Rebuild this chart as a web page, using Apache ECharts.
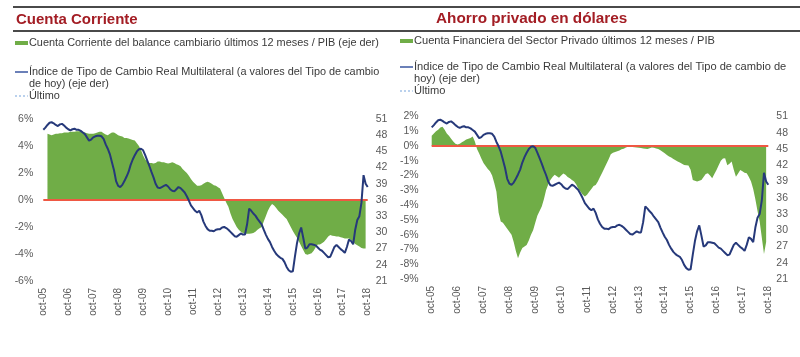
<!DOCTYPE html>
<html>
<head>
<meta charset="utf-8">
<script src="https://cdn.jsdelivr.net/npm/echarts@6/dist/echarts.min.js"></script>
<style>
html,body{margin:0;padding:0;background:#fff;}
#chart{width:800px;height:357px;}
</style>
</head>
<body>
<div id="chart"></div>
<script>
// Month names (Spanish) used to build monthly categories oct-05 .. oct-18
const monthNames = ['ene','feb','mar','abr','may','jun','jul','ago','sep','oct','nov','dic'];
const startYear = 2005, startMonth = 9, nMonths = 157;

// Índice de Tipo de Cambio Real Multilateral (eje der), monthly oct-05..oct-18
const tcrm = [
  49.0, 49.4, 49.9, 50.3, 50.4, 50.2, 49.9, 49.7, 50.0, 50.1, 49.8, 49.4,
  49.1, 48.9, 49.1, 49.2, 49.0, 49.0, 48.8, 48.5, 48.2, 47.6, 47.0, 47.2,
  47.6, 47.8, 47.9, 47.9, 47.8, 47.3, 46.3, 45.5, 44.5, 43.0, 41.5, 39.5,
  38.6, 38.4, 38.8, 39.5, 40.3, 41.2, 42.5, 43.5, 44.3, 45.0, 45.4, 45.5,
  45.2, 44.3, 43.3, 42.3, 41.2, 40.2, 39.0, 38.3, 38.2, 38.4, 38.6, 38.8,
  38.5, 38.0, 37.7, 37.6, 38.0, 38.4, 38.2, 37.8, 37.4, 36.7, 35.9, 35.0,
  34.5, 34.0, 33.7, 34.0, 33.2, 32.0, 31.2, 30.6, 30.3, 30.3, 30.2, 30.5,
  30.6, 30.6, 30.9, 31.0, 30.8, 30.5, 30.1, 29.7, 29.3, 29.2, 29.5, 29.8,
  29.6, 29.6, 31.5, 34.4, 34.0, 33.5, 33.1, 32.5, 32.0, 31.5, 30.5, 29.6,
  28.8, 28.2, 27.3, 26.6, 26.0, 25.6, 25.3, 25.1, 24.5, 23.6, 23.0, 22.7,
  22.8, 25.5, 28.0, 29.8, 30.9, 29.0, 27.0, 27.2, 27.8, 27.8, 27.7, 27.6,
  27.2, 26.8, 26.6, 26.2, 25.8, 25.4, 25.5, 26.4, 27.3, 27.7, 27.3, 26.9,
  26.6, 26.2, 27.3, 28.7, 28.4, 27.8, 30.5, 32.3, 33.0, 35.5, 40.6, 39.0,
  38.4
];

// Cuenta Corriente del balance cambiario últimos 12 meses / PIB (%)
const cuentaCorriente = [
  null, null, 4.9, 4.85, 4.8, 4.85, 4.9, 4.9, 4.95, 4.95, 5.0, 5.0,
  5.0, 5.05, 5.05, 5.05, 5.1, 5.1, 5.1, 5.05, 5.0, 4.95, 4.9, 4.9,
  4.9, 4.95, 5.0, 5.05, 5.05, 4.95, 4.85, 4.8, 4.9, 5.0, 5.0, 4.9,
  4.8, 4.75, 4.7, 4.6, 4.6, 4.55, 4.5, 4.45, 4.4, 4.2, 4.0, 3.7,
  3.3, 3.0, 2.85, 2.75, 2.75, 2.7, 2.75, 2.85, 2.85, 2.8, 2.8, 2.75,
  2.7, 2.75, 2.8, 2.75, 2.65, 2.6, 2.5, 2.3, 2.15, 2.0, 1.8, 1.55,
  1.35, 1.2, 1.05, 1.05, 1.1, 1.2, 1.3, 1.36, 1.3, 1.2, 1.1, 1.05,
  0.95, 0.85, 0.5, 0.15, -0.2, -0.5, -1.0, -1.4, -1.7, -2.0, -2.2, -2.35,
  -2.45, -2.5, -2.5, -2.5, -2.48, -2.45, -2.35, -2.2, -2.1, -2.0, -1.6, -1.2,
  -0.8, -0.5, -0.3, -0.4, -0.6, -0.8, -0.95, -1.1, -1.25, -1.4, -1.7, -2.0,
  -2.3, -2.55, -2.8, -3.1, -3.4, -3.7, -4.0, -4.05, -4.0, -3.95, -3.75, -3.5,
  -3.3, -3.3, -3.2, -3.1, -2.9, -2.7, -2.6, -2.65, -2.67, -2.7, -2.7, -2.75,
  -2.8, -2.85, -2.85, -2.85, -2.95, -3.1, -3.25, -3.35, -3.45, -3.55, -3.6, -3.6,
  null
];

// Cuenta Financiera del Sector Privado últimos 12 meses / PIB (%)
const cuentaFinanciera = [
  0.7, 0.85, 1.0, 1.1, 1.25, 1.3, 1.1, 0.85, 0.7, 0.5, 0.3, 0.15,
  0.1, 0.15, 0.25, 0.35, 0.45, 0.5, 0.55, 0.65, 0.3, -0.2, -0.5, -0.85,
  -1.15, -1.35, -1.55, -1.7, -2.0, -2.5, -3.1, -4.5, -5.1, -5.2, -5.4, -5.6,
  -5.8, -6.0, -6.5, -7.1, -7.6, -7.2, -6.9, -6.8, -6.7, -6.4, -6.0, -5.7,
  -5.2, -4.7, -4.4, -4.1, -3.6, -3.0, -2.6, -2.3, -2.1, -1.95, -2.05, -2.15,
  -2.0, -1.85, -1.95, -2.1, -2.18, -2.3, -2.4, -2.6, -2.9, -3.1, -3.3, -3.42,
  -3.3, -3.1, -2.9, -2.7, -2.64, -2.4, -2.1, -1.8, -1.5, -1.2, -0.9, -0.55,
  -0.45, -0.4, -0.35, -0.3, -0.22, -0.18, -0.1, -0.05, -0.04, -0.06, -0.08, -0.1,
  -0.12, -0.14, -0.16, -0.18, -0.2, -0.15, -0.1, -0.12, -0.16, -0.2, -0.28, -0.38,
  -0.49, -0.6, -0.7, -0.78, -0.87, -0.96, -1.05, -1.12, -1.2, -1.28, -1.3, -1.32,
  -1.6, -2.3, -2.35, -2.4, -2.35, -2.3, -2.1, -1.9, -1.84, -2.0, -2.18, -1.9,
  -1.62, -1.3, -1.0, -0.85, -0.83, -1.3, -1.2, -1.05, -1.6, -2.07, -1.85, -1.62,
  -1.7, -1.8, -1.84, -2.1, -2.4, -2.9, -3.6, -4.4, -5.1, -6.2, -7.3, -6.5,
  null
];

// Texts
const titles = ['Cuenta Corriente', 'Ahorro privado en dólares'];
const legendLeft = [
  'Cuenta Corriente del balance cambiario últimos 12 meses / PIB (eje der)',
  'Índice de Tipo de Cambio Real Multilateral (a valores del Tipo de cambio',
  'de hoy) (eje der)',
  'Último'
];
const legendRight = [
  'Cuenta Financiera del Sector Privado últimos 12 meses / PIB',
  'Índice de Tipo de Cambio Real Multilateral (a valores del Tipo de cambio de',
  'hoy) (eje der)',
  'Último'
];

const categories = [];
for (let i = 0; i < nMonths; i++) {
  const m = (startMonth + i) % 12;
  const y = startYear + Math.floor((startMonth + i) / 12);
  categories.push(monthNames[m] + '-' + String(y).slice(2));
}

const FONT = '"Liberation Sans", Arial, sans-serif';
const GREEN = '#70AD47';
const NAVY = '#26397A';
const RED = '#EF5843';
const TITLE_RED = '#A31D24';
const TXT = '#3a3a3a';
const AX = '#5a5a5a';

const chart = echarts.init(document.getElementById('chart'), null, {renderer: 'canvas'});

function xAxisDef(gi) {
  return {
    type: 'category', gridIndex: gi, data: categories, boundaryGap: false,
    axisLine: {show: false}, axisTick: {show: false}, splitLine: {show: false},
    axisLabel: {interval: 11, rotate: 90, margin: 7, color: AX, fontSize: 10, fontFamily: FONT}
  };
}
function yAxisDef(gi, pos, min, max, interval, fmt, margin) {
  return {
    type: 'value', gridIndex: gi, position: pos, min: min, max: max, interval: interval,
    axisLine: {show: false}, axisTick: {show: false}, splitLine: {show: false},
    axisLabel: {formatter: fmt, color: AX, fontSize: 10.5, fontFamily: FONT, margin: margin}
  };
}

function legendBlock(x0, yRows, texts, fs) {
  const els = [];
  els.push({type: 'rect', shape: {x: x0, y: yRows[0] - 2, width: 13, height: 4}, style: {fill: GREEN}});
  els.push({type: 'line', shape: {x1: x0, y1: yRows[1], x2: x0 + 13, y2: yRows[1]}, style: {stroke: '#3A56A0', lineWidth: 1.5}});
  els.push({type: 'line', shape: {x1: x0, y1: yRows[3], x2: x0 + 13, y2: yRows[3]}, style: {stroke: '#8DB3E2', lineWidth: 1.2, lineDash: [2, 2]}});
  for (let i = 0; i < texts.length; i++) {
    els.push({type: 'text', x: x0 + 14, y: yRows[i], style: {text: texts[i], fill: TXT, font: fs + 'px ' + FONT, textVerticalAlign: 'middle', textAlign: 'left'}});
  }
  return els;
}

const graphics = [
  {type: 'rect', shape: {x: 13, y: 6, width: 787, height: 2}, style: {fill: '#4a4a4a'}},
  {type: 'rect', shape: {x: 13, y: 30, width: 787, height: 2}, style: {fill: '#4a4a4a'}},
  {type: 'text', x: 16, y: 20, style: {text: titles[0], fill: TITLE_RED, font: 'bold 15px ' + FONT, textVerticalAlign: 'middle'}},
  {type: 'text', x: 436, y: 19, style: {text: titles[1], fill: TITLE_RED, font: 'bold 15.3px ' + FONT, textVerticalAlign: 'middle'}}
].concat(legendBlock(15, [43, 72, 84, 96], legendLeft, 10.9))
 .concat(legendBlock(400, [41, 67, 79, 91], legendRight, 11.1));

const zeroLine = {
  silent: true, symbol: ['none', 'none'], label: {show: false},
  lineStyle: {color: RED, width: 2, type: 'solid'},
  data: [{yAxis: 0}]
};

chart.setOption({
  animation: false,
  backgroundColor: '#fff',
  grid: [
    {left: 43.3, top: 119, width: 324.4, height: 162},
    {left: 431.7, top: 116.5, width: 336.6, height: 162.5}
  ],
  xAxis: [xAxisDef(0), xAxisDef(1)],
  yAxis: [
    yAxisDef(0, 'left', -6, 6, 2, '{value}%', 10),
    yAxisDef(0, 'right', 21, 51, 3, '{value}', 8),
    yAxisDef(1, 'left', -9, 2, 1, '{value}%', 13),
    yAxisDef(1, 'right', 21, 51, 3, '{value}', 8)
  ],
  graphic: graphics,
  series: [
    {name: legendLeft[0], type: 'line', xAxisIndex: 0, yAxisIndex: 0, data: cuentaCorriente,
     symbol: 'none', lineStyle: {width: 0}, areaStyle: {color: GREEN, opacity: 1}, z: 2, markLine: zeroLine},
    {name: 'TCRM', type: 'line', xAxisIndex: 0, yAxisIndex: 1, data: tcrm,
     symbol: 'none', lineStyle: {color: NAVY, width: 2}, z: 5},
    {name: legendRight[0], type: 'line', xAxisIndex: 1, yAxisIndex: 2, data: cuentaFinanciera,
     symbol: 'none', lineStyle: {width: 0}, areaStyle: {color: GREEN, opacity: 1}, z: 2, markLine: zeroLine},
    {name: 'TCRM2', type: 'line', xAxisIndex: 1, yAxisIndex: 3, data: tcrm,
     symbol: 'none', lineStyle: {color: NAVY, width: 2}, z: 5}
  ]
});
</script>
</body>
</html>
